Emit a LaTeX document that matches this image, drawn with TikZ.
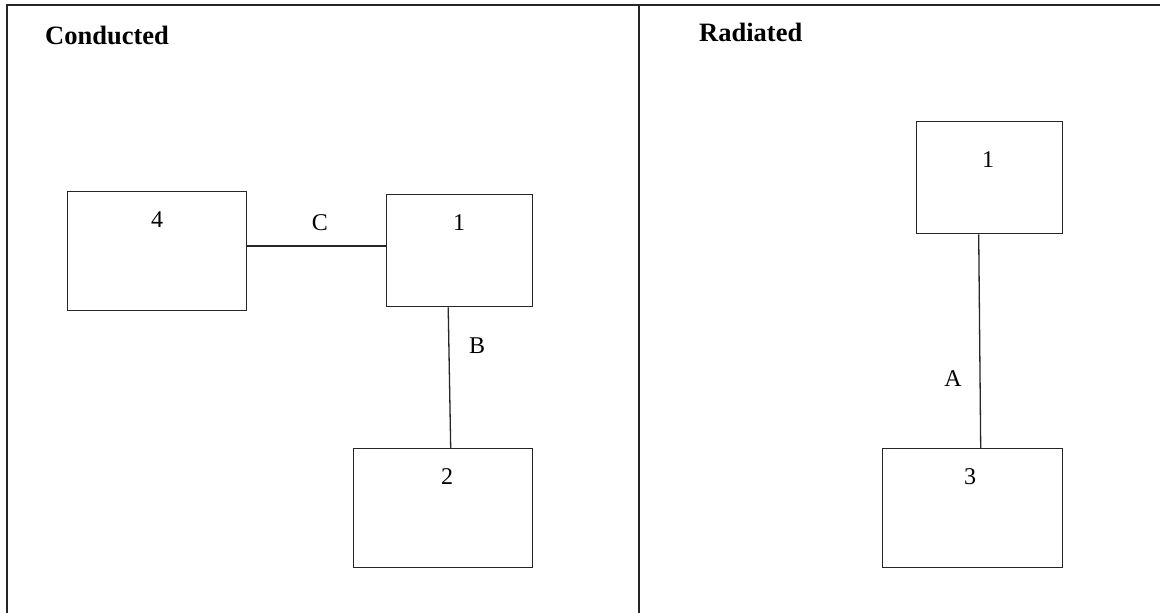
\documentclass[tikz,border=0pt]{standalone}
\usepackage{fontspec}
\setmainfont{Liberation Serif}
\begin{document}
\begin{tikzpicture}[x=1pt,y=-1pt,
  frame/.style={line width=2.4pt,black!85},
  box/.style={draw=black!85,line width=1.4pt,anchor=north west,inner sep=0pt},
  wire/.style={draw=black!85,line width=1.3pt},
  lab/.style={font=\fontsize{24}{28}\selectfont,anchor=base,inner sep=0pt},
  head/.style={font=\fontsize{26.5}{30}\selectfont\bfseries,anchor=base west,inner sep=0pt}]
\useasboundingbox (0,0) rectangle (1160,613);
% frame
\draw[frame,line cap=rect] (7,613) -- (7,5) -- (1160,5);
\draw[frame] (639,5) -- (639,613);
% headings
\node[head] (hc) at (45,45) {Conducted};
\node[head] (hr) at (699,41) {Radiated};
% left panel boxes
\node[box,minimum width=179pt,minimum height=119pt] (b4) at (67,191) {};
\node[box,minimum width=146pt,minimum height=112pt] (b1) at (386,194) {};
\node[box,minimum width=179pt,minimum height=119pt] (b2) at (353,448) {};
% right panel boxes
\node[box,minimum width=146pt,minimum height=112pt] (r1) at (916,121) {};
\node[box,minimum width=180pt,minimum height=119pt] (r3) at (882,448) {};
% box labels
\node[lab] (t4) at (157,227) {4};
\node[lab] (t1) at (459,230) {1};
\node[lab] (t2) at (447,484) {2};
\node[lab] (tr1) at (988,167) {1};
\node[lab] (tr3) at (970,484) {3};
% connectors
\coordinate (cy) at (0,246);
\draw[wire] (b4.east |- cy) -- (b1.west |- cy);
\draw[wire] ([xshift=-11.5pt]b1.south) -- ([xshift=7.5pt]b2.north);
\draw[wire] ([xshift=-11pt]r1.south) -- ([xshift=8pt]r3.north);
% connector labels
\node[lab] (lc) at (320,230) {C};
\node[lab] (lb) at (477,353) {B};
\node[lab] (la) at (953,386) {A};
\end{tikzpicture}
\end{document}
